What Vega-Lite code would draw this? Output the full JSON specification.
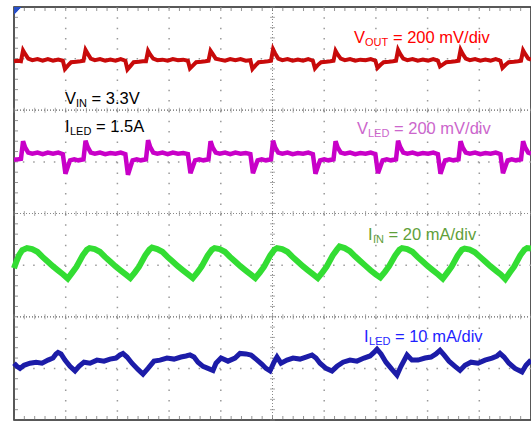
{
"$schema": "https://vega.github.io/schema/vega-lite/v6.json",
"width": 517, "height": 413,
"autosize": {"type": "none"},
"padding": {"left": 14, "top": 7, "right": 0, "bottom": 1},
"background": "white",
"config": {"view": {"stroke": "#222", "strokeWidth": 1.5}, "font": "Liberation Sans"},
"datasets": {
"gx": [{"g":1},{"g":2},{"g":3},{"g":4},{"g":6},{"g":7},{"g":8},{"g":9}],
"gy": [{"g":-3},{"g":-1},{"g":1},{"g":3}],
"minorx": [{"p":0},{"p":0.2},{"p":0.4},{"p":0.6},{"p":0.8},{"p":1},{"p":1.2},{"p":1.4},{"p":1.6},{"p":1.8},{"p":2},{"p":2.2},{"p":2.4},{"p":2.6},{"p":2.8},{"p":3},{"p":3.2},{"p":3.4},{"p":3.6},{"p":3.8},{"p":4},{"p":4.2},{"p":4.4},{"p":4.6},{"p":4.8},{"p":5},{"p":5.2},{"p":5.4},{"p":5.6},{"p":5.8},{"p":6},{"p":6.2},{"p":6.4},{"p":6.6},{"p":6.8},{"p":7},{"p":7.2},{"p":7.4},{"p":7.6},{"p":7.8},{"p":8},{"p":8.2},{"p":8.4},{"p":8.6},{"p":8.8},{"p":9},{"p":9.2},{"p":9.4},{"p":9.6},{"p":9.8},{"p":10}],
"minory": [{"p":-4},{"p":-3.8},{"p":-3.6},{"p":-3.4},{"p":-3.2},{"p":-3},{"p":-2.8},{"p":-2.6},{"p":-2.4},{"p":-2.2},{"p":-2},{"p":-1.8},{"p":-1.6},{"p":-1.4},{"p":-1.2},{"p":-1},{"p":-0.8},{"p":-0.6},{"p":-0.4},{"p":-0.2},{"p":0},{"p":0.2},{"p":0.4},{"p":0.6},{"p":0.8},{"p":1},{"p":1.2},{"p":1.4},{"p":1.6},{"p":1.8},{"p":2},{"p":2.2},{"p":2.4},{"p":2.6},{"p":2.8},{"p":3},{"p":3.2},{"p":3.4},{"p":3.6},{"p":3.8},{"p":4}],
"vout": [{"t":0,"v":2.95},{"t":0.08,"v":2.96},{"t":0.135,"v":2.95},{"t":0.175,"v":3.16},{"t":0.215,"v":3.09},{"t":0.275,"v":3.0},{"t":0.355,"v":2.97},{"t":0.455,"v":2.99},{"t":0.555,"v":2.96},{"t":0.655,"v":2.99},{"t":0.755,"v":2.96},{"t":0.855,"v":2.98},{"t":0.945,"v":2.96},{"t":0.985,"v":2.8},{"t":1.045,"v":2.87},{"t":1.105,"v":2.93},{"t":1.205,"v":2.94},
{"t":1.284,"v":2.95},{"t":1.344,"v":2.96},{"t":1.384,"v":3.17},{"t":1.424,"v":3.1},{"t":1.484,"v":3.0},{"t":1.564,"v":2.97},{"t":1.664,"v":2.99},{"t":1.764,"v":2.96},{"t":1.864,"v":2.98},{"t":1.964,"v":2.96},{"t":2.064,"v":2.99},{"t":2.154,"v":2.96},{"t":2.194,"v":2.79},{"t":2.254,"v":2.86},{"t":2.314,"v":2.93},{"t":2.414,"v":2.94},
{"t":2.493,"v":2.95},{"t":2.553,"v":2.95},{"t":2.593,"v":3.15},{"t":2.633,"v":3.08},{"t":2.693,"v":3.0},{"t":2.773,"v":2.97},{"t":2.873,"v":2.98},{"t":2.973,"v":2.96},{"t":3.073,"v":2.99},{"t":3.173,"v":2.97},{"t":3.273,"v":2.98},{"t":3.363,"v":2.96},{"t":3.403,"v":2.81},{"t":3.463,"v":2.87},{"t":3.523,"v":2.93},{"t":3.623,"v":2.94},
{"t":3.702,"v":2.95},{"t":3.762,"v":2.96},{"t":3.802,"v":3.15},{"t":3.842,"v":3.09},{"t":3.902,"v":3.0},{"t":3.982,"v":2.98},{"t":4.082,"v":2.96},{"t":4.182,"v":2.99},{"t":4.282,"v":2.97},{"t":4.382,"v":2.99},{"t":4.482,"v":2.96},{"t":4.572,"v":2.97},{"t":4.612,"v":2.8},{"t":4.672,"v":2.87},{"t":4.732,"v":2.93},{"t":4.832,"v":2.94},
{"t":4.911,"v":2.95},{"t":4.971,"v":2.96},{"t":5.011,"v":3.18},{"t":5.051,"v":3.1},{"t":5.111,"v":3.0},{"t":5.191,"v":2.97},{"t":5.291,"v":2.99},{"t":5.391,"v":2.96},{"t":5.491,"v":2.98},{"t":5.591,"v":2.96},{"t":5.691,"v":2.99},{"t":5.781,"v":2.96},{"t":5.821,"v":2.81},{"t":5.881,"v":2.88},{"t":5.941,"v":2.93},{"t":6.041,"v":2.94},
{"t":6.12,"v":2.95},{"t":6.18,"v":2.96},{"t":6.22,"v":3.15},{"t":6.26,"v":3.08},{"t":6.32,"v":3.0},{"t":6.4,"v":2.97},{"t":6.5,"v":2.99},{"t":6.6,"v":2.96},{"t":6.7,"v":2.98},{"t":6.8,"v":2.97},{"t":6.9,"v":2.99},{"t":6.99,"v":2.96},{"t":7.03,"v":2.82},{"t":7.09,"v":2.88},{"t":7.15,"v":2.93},{"t":7.25,"v":2.94},
{"t":7.329,"v":2.95},{"t":7.389,"v":2.96},{"t":7.429,"v":3.17},{"t":7.469,"v":3.09},{"t":7.529,"v":3.0},{"t":7.609,"v":2.97},{"t":7.709,"v":2.99},{"t":7.809,"v":2.96},{"t":7.909,"v":2.98},{"t":8.009,"v":2.96},{"t":8.109,"v":2.99},{"t":8.199,"v":2.96},{"t":8.239,"v":2.85},{"t":8.299,"v":2.89},{"t":8.359,"v":2.93},{"t":8.459,"v":2.94},
{"t":8.538,"v":2.95},{"t":8.598,"v":2.96},{"t":8.638,"v":3.17},{"t":8.678,"v":3.09},{"t":8.738,"v":3.0},{"t":8.818,"v":2.97},{"t":8.918,"v":2.99},{"t":9.018,"v":2.96},{"t":9.118,"v":2.98},{"t":9.218,"v":2.96},{"t":9.318,"v":2.99},{"t":9.408,"v":2.96},{"t":9.448,"v":2.82},{"t":9.508,"v":2.88},{"t":9.568,"v":2.93},{"t":9.668,"v":2.94},
{"t":9.747,"v":2.95},{"t":9.807,"v":2.96},{"t":9.847,"v":3.16},{"t":9.887,"v":3.09},{"t":9.947,"v":3.0},{"t":10,"v":2.98}],
"vled": [{"t":0,"v":1.04},{"t":0.08,"v":1.05},{"t":0.135,"v":1.06},{"t":0.175,"v":1.4},{"t":0.215,"v":1.28},{"t":0.275,"v":1.18},{"t":0.355,"v":1.16},{"t":0.455,"v":1.18},{"t":0.555,"v":1.15},{"t":0.655,"v":1.18},{"t":0.755,"v":1.16},{"t":0.855,"v":1.18},{"t":0.945,"v":1.15},{"t":0.995,"v":0.77},{"t":1.045,"v":0.92},{"t":1.085,"v":1.03},{"t":1.165,"v":1.05},{"t":1.245,"v":1.03},
{"t":1.344,"v":1.05},{"t":1.384,"v":1.41},{"t":1.424,"v":1.29},{"t":1.484,"v":1.18},{"t":1.564,"v":1.16},{"t":1.664,"v":1.18},{"t":1.764,"v":1.15},{"t":1.864,"v":1.17},{"t":1.964,"v":1.16},{"t":2.064,"v":1.18},{"t":2.154,"v":1.15},{"t":2.204,"v":0.75},{"t":2.254,"v":0.91},{"t":2.294,"v":1.03},{"t":2.374,"v":1.05},{"t":2.454,"v":1.03},
{"t":2.553,"v":1.05},{"t":2.593,"v":1.42},{"t":2.633,"v":1.29},{"t":2.693,"v":1.18},{"t":2.773,"v":1.16},{"t":2.873,"v":1.18},{"t":2.973,"v":1.15},{"t":3.073,"v":1.18},{"t":3.173,"v":1.16},{"t":3.273,"v":1.17},{"t":3.363,"v":1.15},{"t":3.413,"v":0.78},{"t":3.463,"v":0.92},{"t":3.503,"v":1.03},{"t":3.583,"v":1.05},{"t":3.663,"v":1.03},
{"t":3.762,"v":1.05},{"t":3.802,"v":1.4},{"t":3.842,"v":1.28},{"t":3.902,"v":1.18},{"t":3.982,"v":1.16},{"t":4.082,"v":1.18},{"t":4.182,"v":1.15},{"t":4.282,"v":1.18},{"t":4.382,"v":1.16},{"t":4.482,"v":1.17},{"t":4.572,"v":1.15},{"t":4.622,"v":0.78},{"t":4.672,"v":0.92},{"t":4.712,"v":1.03},{"t":4.792,"v":1.05},{"t":4.872,"v":1.03},
{"t":4.971,"v":1.05},{"t":5.011,"v":1.41},{"t":5.051,"v":1.28},{"t":5.111,"v":1.18},{"t":5.191,"v":1.16},{"t":5.291,"v":1.18},{"t":5.391,"v":1.15},{"t":5.491,"v":1.17},{"t":5.591,"v":1.16},{"t":5.691,"v":1.18},{"t":5.781,"v":1.15},{"t":5.831,"v":0.77},{"t":5.881,"v":0.92},{"t":5.921,"v":1.03},{"t":6.001,"v":1.05},{"t":6.081,"v":1.03},
{"t":6.18,"v":1.05},{"t":6.22,"v":1.4},{"t":6.26,"v":1.28},{"t":6.32,"v":1.18},{"t":6.4,"v":1.16},{"t":6.5,"v":1.18},{"t":6.6,"v":1.15},{"t":6.7,"v":1.17},{"t":6.8,"v":1.16},{"t":6.9,"v":1.18},{"t":6.99,"v":1.15},{"t":7.04,"v":0.78},{"t":7.09,"v":0.92},{"t":7.13,"v":1.03},{"t":7.21,"v":1.05},{"t":7.29,"v":1.03},
{"t":7.389,"v":1.05},{"t":7.429,"v":1.41},{"t":7.469,"v":1.29},{"t":7.529,"v":1.18},{"t":7.609,"v":1.16},{"t":7.709,"v":1.18},{"t":7.809,"v":1.15},{"t":7.909,"v":1.17},{"t":8.009,"v":1.16},{"t":8.109,"v":1.18},{"t":8.199,"v":1.15},{"t":8.249,"v":0.77},{"t":8.299,"v":0.92},{"t":8.339,"v":1.03},{"t":8.419,"v":1.05},{"t":8.499,"v":1.03},
{"t":8.598,"v":1.05},{"t":8.638,"v":1.4},{"t":8.678,"v":1.28},{"t":8.738,"v":1.18},{"t":8.818,"v":1.16},{"t":8.918,"v":1.18},{"t":9.018,"v":1.15},{"t":9.118,"v":1.17},{"t":9.218,"v":1.16},{"t":9.318,"v":1.18},{"t":9.408,"v":1.15},{"t":9.458,"v":0.78},{"t":9.508,"v":0.92},{"t":9.548,"v":1.03},{"t":9.628,"v":1.05},{"t":9.708,"v":1.03},
{"t":9.807,"v":1.05},{"t":9.847,"v":1.4},{"t":9.887,"v":1.28},{"t":9.947,"v":1.18},{"t":10,"v":1.16}],
"iin": [{"t":0,"v":-1.06},{"t":0.05,"v":-0.92},{"t":0.1,"v":-0.8},{"t":0.16,"v":-0.71},{"t":0.251,"v":-0.67},{"t":0.351,"v":-0.69},{"t":0.451,"v":-0.74},{"t":0.551,"v":-0.84},{"t":0.651,"v":-0.93},{"t":0.751,"v":-1.02},{"t":0.851,"v":-1.1},{"t":0.951,"v":-1.18},{"t":1.04,"v":-1.26},
{"t":1.13,"v":-1.14},{"t":1.21,"v":-1.03},{"t":1.33,"v":-0.81},{"t":1.41,"v":-0.7},{"t":1.46,"v":-0.67},{"t":1.56,"v":-0.69},{"t":1.66,"v":-0.74},{"t":1.76,"v":-0.84},{"t":1.86,"v":-0.93},{"t":1.96,"v":-1.02},{"t":2.06,"v":-1.1},{"t":2.16,"v":-1.18},{"t":2.249,"v":-1.25},
{"t":2.339,"v":-1.14},{"t":2.419,"v":-1.03},{"t":2.539,"v":-0.81},{"t":2.619,"v":-0.7},{"t":2.669,"v":-0.66},{"t":2.769,"v":-0.69},{"t":2.869,"v":-0.74},{"t":2.969,"v":-0.84},{"t":3.069,"v":-0.93},{"t":3.169,"v":-1.02},{"t":3.269,"v":-1.1},{"t":3.369,"v":-1.18},{"t":3.458,"v":-1.25},
{"t":3.548,"v":-1.14},{"t":3.628,"v":-1.03},{"t":3.748,"v":-0.81},{"t":3.828,"v":-0.7},{"t":3.878,"v":-0.67},{"t":3.978,"v":-0.69},{"t":4.078,"v":-0.74},{"t":4.178,"v":-0.84},{"t":4.278,"v":-0.93},{"t":4.378,"v":-1.02},{"t":4.478,"v":-1.1},{"t":4.578,"v":-1.18},{"t":4.667,"v":-1.25},
{"t":4.757,"v":-1.14},{"t":4.837,"v":-1.03},{"t":4.957,"v":-0.81},{"t":5.037,"v":-0.7},{"t":5.087,"v":-0.67},{"t":5.187,"v":-0.69},{"t":5.287,"v":-0.74},{"t":5.387,"v":-0.84},{"t":5.487,"v":-0.93},{"t":5.587,"v":-1.02},{"t":5.687,"v":-1.1},{"t":5.787,"v":-1.18},{"t":5.876,"v":-1.25},
{"t":5.966,"v":-1.14},{"t":6.046,"v":-1.03},{"t":6.166,"v":-0.81},{"t":6.246,"v":-0.7},{"t":6.296,"v":-0.64},{"t":6.396,"v":-0.67},{"t":6.496,"v":-0.73},{"t":6.596,"v":-0.83},{"t":6.696,"v":-0.92},{"t":6.796,"v":-1.01},{"t":6.896,"v":-1.1},{"t":6.996,"v":-1.18},{"t":7.085,"v":-1.24},
{"t":7.175,"v":-1.13},{"t":7.255,"v":-1.02},{"t":7.375,"v":-0.81},{"t":7.455,"v":-0.7},{"t":7.505,"v":-0.67},{"t":7.605,"v":-0.69},{"t":7.705,"v":-0.74},{"t":7.805,"v":-0.84},{"t":7.905,"v":-0.93},{"t":8.005,"v":-1.02},{"t":8.105,"v":-1.1},{"t":8.205,"v":-1.18},{"t":8.294,"v":-1.26},
{"t":8.384,"v":-1.14},{"t":8.464,"v":-1.03},{"t":8.584,"v":-0.81},{"t":8.664,"v":-0.7},{"t":8.714,"v":-0.68},{"t":8.814,"v":-0.7},{"t":8.914,"v":-0.75},{"t":9.014,"v":-0.84},{"t":9.114,"v":-0.93},{"t":9.214,"v":-1.02},{"t":9.314,"v":-1.1},{"t":9.414,"v":-1.18},{"t":9.503,"v":-1.27},
{"t":9.593,"v":-1.14},{"t":9.673,"v":-1.03},{"t":9.793,"v":-0.81},{"t":9.873,"v":-0.7},{"t":9.923,"v":-0.67},{"t":10,"v":-0.68}],
"iled": [{"t":0,"v":-2.9},{"t":0.058,"v":-2.96},{"t":0.116,"v":-3.0},{"t":0.193,"v":-2.94},{"t":0.309,"v":-2.9},{"t":0.426,"v":-2.88},{"t":0.542,"v":-2.9},{"t":0.658,"v":-2.84},{"t":0.754,"v":-2.8},{"t":0.812,"v":-2.72},{"t":0.851,"v":-2.69},{"t":0.909,"v":-2.72},{"t":0.986,"v":-2.84},{"t":1.083,"v":-2.96},{"t":1.18,"v":-3.05},{"t":1.257,"v":-2.96},{"t":1.354,"v":-2.88},{"t":1.47,"v":-2.9},{"t":1.605,"v":-2.84},{"t":1.741,"v":-2.86},{"t":1.857,"v":-2.82},{"t":1.973,"v":-2.8},{"t":2.05,"v":-2.74},{"t":2.108,"v":-2.71},{"t":2.186,"v":-2.78},{"t":2.282,"v":-2.9},{"t":2.398,"v":-3.02},{"t":2.495,"v":-3.11},{"t":2.592,"v":-3.0},{"t":2.708,"v":-2.86},{"t":2.824,"v":-2.84},{"t":2.959,"v":-2.8},{"t":3.095,"v":-2.82},{"t":3.23,"v":-2.78},{"t":3.327,"v":-2.76},{"t":3.404,"v":-2.74},{"t":3.482,"v":-2.78},{"t":3.559,"v":-2.88},{"t":3.656,"v":-2.96},{"t":3.752,"v":-3.0},{"t":3.849,"v":-3.04},{"t":3.907,"v":-2.9},{"t":4.004,"v":-2.8},{"t":4.139,"v":-2.86},{"t":4.275,"v":-2.8},{"t":4.371,"v":-2.71},{"t":4.487,"v":-2.72},{"t":4.584,"v":-2.74},{"t":4.681,"v":-2.82},{"t":4.797,"v":-2.92},{"t":4.874,"v":-3.0},{"t":4.952,"v":-3.05},{"t":5.029,"v":-2.88},{"t":5.087,"v":-2.78},{"t":5.164,"v":-2.9},{"t":5.28,"v":-2.84},{"t":5.397,"v":-2.8},{"t":5.532,"v":-2.82},{"t":5.648,"v":-2.78},{"t":5.764,"v":-2.74},{"t":5.841,"v":-2.8},{"t":5.919,"v":-2.9},{"t":6.035,"v":-3.0},{"t":6.151,"v":-3.05},{"t":6.248,"v":-2.96},{"t":6.364,"v":-2.88},{"t":6.499,"v":-2.84},{"t":6.634,"v":-2.86},{"t":6.77,"v":-2.8},{"t":6.886,"v":-2.76},{"t":6.963,"v":-2.69},{"t":7.021,"v":-2.63},{"t":7.099,"v":-2.72},{"t":7.195,"v":-2.88},{"t":7.311,"v":-3.02},{"t":7.408,"v":-3.13},{"t":7.485,"v":-2.96},{"t":7.602,"v":-2.74},{"t":7.698,"v":-2.84},{"t":7.814,"v":-2.84},{"t":7.95,"v":-2.8},{"t":8.066,"v":-2.78},{"t":8.162,"v":-2.72},{"t":8.24,"v":-2.65},{"t":8.317,"v":-2.74},{"t":8.414,"v":-2.86},{"t":8.53,"v":-2.96},{"t":8.627,"v":-3.04},{"t":8.723,"v":-2.94},{"t":8.839,"v":-2.88},{"t":8.975,"v":-2.9},{"t":9.11,"v":-2.84},{"t":9.246,"v":-2.8},{"t":9.342,"v":-2.76},{"t":9.4,"v":-2.71},{"t":9.478,"v":-2.78},{"t":9.574,"v":-2.9},{"t":9.691,"v":-3.0},{"t":9.826,"v":-3.07},{"t":9.903,"v":-2.94},{"t":10,"v":-2.84}],
"big": [{"lab":"vout","t":6.576,"v":3.302,"txt":"V"},{"lab":"vout","t":7.33,"v":3.302,"txt":"= 200 mV/div"},{"lab":"vled","t":6.634,"v":1.539,"txt":"V"},{"lab":"vled","t":7.35,"v":1.539,"txt":"= 200 mV/div"},{"lab":"iin","t":6.847,"v":-0.516,"txt":"I"},{"lab":"iin","t":7.245,"v":-0.516,"txt":"= 20 mA/div"},{"lab":"iled","t":6.77,"v":-2.492,"txt":"I"},{"lab":"iled","t":7.369,"v":-2.492,"txt":"= 10 mA/div"},{"lab":"vin","t":0.986,"v":2.12,"txt":"V"},{"lab":"vin","t":1.501,"v":2.12,"txt":"= 3.3V"},{"lab":"iset","t":0.986,"v":1.578,"txt":"I"},{"lab":"iset","t":1.586,"v":1.578,"txt":"= 1.5A"}],
"sub": [{"lab":"vout","t":6.789,"v":3.244,"txt":"OUT"},{"lab":"vled","t":6.847,"v":1.481,"txt":"LED"},{"lab":"iin","t":6.944,"v":-0.574,"txt":"IN"},{"lab":"iled","t":6.867,"v":-2.55,"txt":"LED"},{"lab":"vin","t":1.199,"v":2.062,"txt":"IN"},{"lab":"iset","t":1.083,"v":1.519,"txt":"LED"}]
},
"layer": [
{"data": {"name": "gx"}, "mark": {"type": "rule", "color": "#9a9a9a", "strokeWidth": 1.5, "strokeDash": [1.5, 8.84]},
 "encoding": {"x": {"field": "g", "type": "quantitative", "scale": {"domain": [0, 10], "nice": false, "zero": false}, "axis": null}}},
{"data": {"name": "gy"}, "mark": {"type": "rule", "color": "#9a9a9a", "strokeWidth": 1.5, "strokeDash": [1.5, 8.84]},
 "encoding": {"y": {"field": "g", "type": "quantitative", "scale": {"domain": [-4, 4], "nice": false, "zero": false}, "axis": null}}},
{"data": {"name": "gy"}, "mark": {"type": "rule", "color": "#8a8a8a", "strokeWidth": 1, "strokeDash": [1, 2]},
 "encoding": {"x": {"datum": 5, "type": "quantitative", "scale": {"domain": [0, 10], "nice": false, "zero": false}, "axis": null}}},
{"data": {"name": "gy"}, "mark": {"type": "rule", "color": "#8a8a8a", "strokeWidth": 1, "strokeDash": [1, 2]},
 "encoding": {"y": {"datum": 0, "type": "quantitative", "scale": {"domain": [-4, 4], "nice": false, "zero": false}, "axis": null}}},
{"data": {"name": "gy"}, "mark": {"type": "rule", "color": "#8a8a8a", "strokeWidth": 1, "strokeDash": [1, 2]},
 "encoding": {"y": {"datum": 2, "type": "quantitative", "scale": {"domain": [-4, 4], "nice": false, "zero": false}, "axis": null}}},
{"data": {"name": "gy"}, "mark": {"type": "rule", "color": "#8a8a8a", "strokeWidth": 1, "strokeDash": [1, 2]},
 "encoding": {"y": {"datum": -2, "type": "quantitative", "scale": {"domain": [-4, 4], "nice": false, "zero": false}, "axis": null}}},
{"data": {"name": "minorx"}, "mark": {"type": "tick", "orient": "vertical", "color": "#888", "size": 5, "thickness": 1},
 "encoding": {"x": {"field": "p", "type": "quantitative", "scale": {"domain": [0, 10], "nice": false, "zero": false}, "axis": null}, "y": {"datum": 0, "type": "quantitative", "scale": {"domain": [-4, 4], "nice": false, "zero": false}, "axis": null}}},
{"data": {"name": "minorx"}, "mark": {"type": "tick", "orient": "vertical", "color": "#888", "size": 5, "thickness": 1},
 "encoding": {"x": {"field": "p", "type": "quantitative", "scale": {"domain": [0, 10], "nice": false, "zero": false}, "axis": null}, "y": {"datum": 2, "type": "quantitative", "scale": {"domain": [-4, 4], "nice": false, "zero": false}, "axis": null}}},
{"data": {"name": "minorx"}, "mark": {"type": "tick", "orient": "vertical", "color": "#888", "size": 5, "thickness": 1},
 "encoding": {"x": {"field": "p", "type": "quantitative", "scale": {"domain": [0, 10], "nice": false, "zero": false}, "axis": null}, "y": {"datum": -2, "type": "quantitative", "scale": {"domain": [-4, 4], "nice": false, "zero": false}, "axis": null}}},
{"data": {"name": "minorx"}, "mark": {"type": "tick", "orient": "vertical", "color": "#666", "size": 8, "thickness": 1, "clip": true},
 "encoding": {"x": {"field": "p", "type": "quantitative", "scale": {"domain": [0, 10], "nice": false, "zero": false}, "axis": null}, "y": {"datum": 4, "type": "quantitative", "scale": {"domain": [-4, 4], "nice": false, "zero": false}, "axis": null}}},
{"data": {"name": "minorx"}, "mark": {"type": "tick", "orient": "vertical", "color": "#666", "size": 8, "thickness": 1, "clip": true},
 "encoding": {"x": {"field": "p", "type": "quantitative", "scale": {"domain": [0, 10], "nice": false, "zero": false}, "axis": null}, "y": {"datum": -4, "type": "quantitative", "scale": {"domain": [-4, 4], "nice": false, "zero": false}, "axis": null}}},
{"data": {"name": "minory"}, "mark": {"type": "tick", "orient": "horizontal", "color": "#888", "size": 5, "thickness": 1},
 "encoding": {"y": {"field": "p", "type": "quantitative", "scale": {"domain": [-4, 4], "nice": false, "zero": false}, "axis": null}, "x": {"datum": 5, "type": "quantitative", "scale": {"domain": [0, 10], "nice": false, "zero": false}, "axis": null}}},
{"data": {"name": "minory"}, "mark": {"type": "tick", "orient": "horizontal", "color": "#666", "size": 8, "thickness": 1, "clip": true},
 "encoding": {"y": {"field": "p", "type": "quantitative", "scale": {"domain": [-4, 4], "nice": false, "zero": false}, "axis": null}, "x": {"datum": 0, "type": "quantitative", "scale": {"domain": [0, 10], "nice": false, "zero": false}, "axis": null}}},
{"data": {"name": "vout"}, "mark": {"type": "line", "color": "#c80a0a", "strokeWidth": 4},
 "encoding": {"x": {"field": "t", "type": "quantitative", "scale": {"domain": [0, 10], "nice": false, "zero": false}, "axis": null}, "y": {"field": "v", "type": "quantitative", "scale": {"domain": [-4, 4], "nice": false, "zero": false}, "axis": null}}},
{"data": {"name": "vled"}, "mark": {"type": "line", "color": "#c800c8", "strokeWidth": 4.5},
 "encoding": {"x": {"field": "t", "type": "quantitative", "scale": {"domain": [0, 10], "nice": false, "zero": false}, "axis": null}, "y": {"field": "v", "type": "quantitative", "scale": {"domain": [-4, 4], "nice": false, "zero": false}, "axis": null}}},
{"data": {"name": "iin"}, "mark": {"type": "line", "color": "#33dd33", "strokeWidth": 6},
 "encoding": {"x": {"field": "t", "type": "quantitative", "scale": {"domain": [0, 10], "nice": false, "zero": false}, "axis": null}, "y": {"field": "v", "type": "quantitative", "scale": {"domain": [-4, 4], "nice": false, "zero": false}, "axis": null}}},
{"data": {"name": "iled"}, "mark": {"type": "line", "color": "#1c1ca8", "strokeWidth": 5},
 "encoding": {"x": {"field": "t", "type": "quantitative", "scale": {"domain": [0, 10], "nice": false, "zero": false}, "axis": null}, "y": {"field": "v", "type": "quantitative", "scale": {"domain": [-4, 4], "nice": false, "zero": false}, "axis": null}}},
{"data": {"name": "big"}, "mark": {"type": "text", "align": "left", "baseline": "alphabetic", "fontSize": 16.5, "font": "Liberation Sans"},
 "encoding": {"x": {"field": "t", "type": "quantitative", "scale": {"domain": [0, 10], "nice": false, "zero": false}, "axis": null}, "y": {"field": "v", "type": "quantitative", "scale": {"domain": [-4, 4], "nice": false, "zero": false}, "axis": null}, "text": {"field": "txt"},
  "color": {"field": "lab", "type": "nominal", "scale": {"domain": ["vout", "vled", "iin", "iled", "vin", "iset"], "range": ["#ff0000", "#cc66cc", "#5fa03a", "#1f1fff", "#000000", "#000000"]}, "legend": null}}},
{"data": {"name": "sub"}, "mark": {"type": "text", "align": "left", "baseline": "alphabetic", "fontSize": 11, "font": "Liberation Sans"},
 "encoding": {"x": {"field": "t", "type": "quantitative", "scale": {"domain": [0, 10], "nice": false, "zero": false}, "axis": null}, "y": {"field": "v", "type": "quantitative", "scale": {"domain": [-4, 4], "nice": false, "zero": false}, "axis": null}, "text": {"field": "txt"},
  "color": {"field": "lab", "type": "nominal", "scale": {"domain": ["vout", "vled", "iin", "iled", "vin", "iset"], "range": ["#ff0000", "#cc66cc", "#5fa03a", "#1f1fff", "#000000", "#000000"]}, "legend": null}}},
{"data": {"name": "gx"}, "mark": {"type": "point", "shape": "M0,0L2.4,0L0,2.4Z", "size": 36, "filled": true, "color": "#2850c8", "opacity": 1},
 "encoding": {"x": {"datum": 0, "type": "quantitative", "scale": {"domain": [0, 10], "nice": false, "zero": false}, "axis": null}, "y": {"datum": 4, "type": "quantitative", "scale": {"domain": [-4, 4], "nice": false, "zero": false}, "axis": null}}}
]
}
